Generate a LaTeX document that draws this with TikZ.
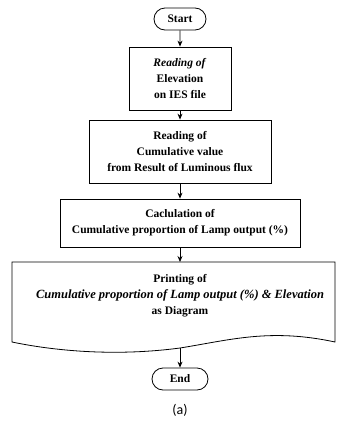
\documentclass[tikz,border=0pt]{standalone}
\usepackage{fontspec}
\setmainfont{Liberation Serif}
\newfontfamily\capfont{Carlito}
\usetikzlibrary{arrows.meta,shapes.misc}
\tikzset{
  txt/.style={font=\bfseries\fontsize{11.5}{16}\selectfont, align=center, inner sep=0pt},
  term/.style={txt, draw, line width=0.8pt, rounded rectangle, minimum width=52pt, minimum height=22pt},
  procbox/.style={txt, draw, line width=0.8pt, rectangle},
  flow/.style={line width=0.8pt, -{Stealth[length=6pt,width=5pt]}},
}
\begin{document}
\begin{tikzpicture}[x=1pt,y=-1pt]
\useasboundingbox (0,0) rectangle (339,426);
\node[term] (start) at (180,19) {Start};
\node[procbox, minimum width=102pt, minimum height=63pt] (b1) at (180,78.5) {\textit{Reading of}\\Elevation\\on IES file};
\node[procbox, minimum width=182pt, minimum height=63pt] (b2) at (180,151.5) {Reading of\\Cumulative value\\from Result of Luminous flux};
\node[procbox, minimum width=240pt, minimum height=48pt] (b3) at (180,223) {Caclulation of\\Cumulative proportion of Lamp output (\%)};
\coordinate (dtop) at (180,262);
\coordinate (dwave) at (180,348);
\draw[line width=0.8pt] (12,262) -- (335,262) -- (335,342)
  .. controls (270,328) and (230,340) .. (dwave)
  .. controls (120,356) and (60,352) .. (12,342) -- cycle;
\node[txt] (doc) at (180,296) {Printing of\\{\fontsize{12.5}{16}\selectfont\textit{Cumulative proportion of Lamp output (\%) \& Elevation}}\\as Diagram};
\node[term, minimum width=56pt] (end) at (180,379) {End};
\node[font=\capfont\fontsize{14}{16}\selectfont, inner sep=0pt] (cap) at (180,410) {(a)};
\draw[flow] (start) -- (b1);
\draw[flow] (b1) -- (b2);
\draw[flow] (b2) -- (b3);
\draw[flow] (b3) -- (dtop);
\draw[flow] (dwave) -- (end);
\end{tikzpicture}
\end{document}
